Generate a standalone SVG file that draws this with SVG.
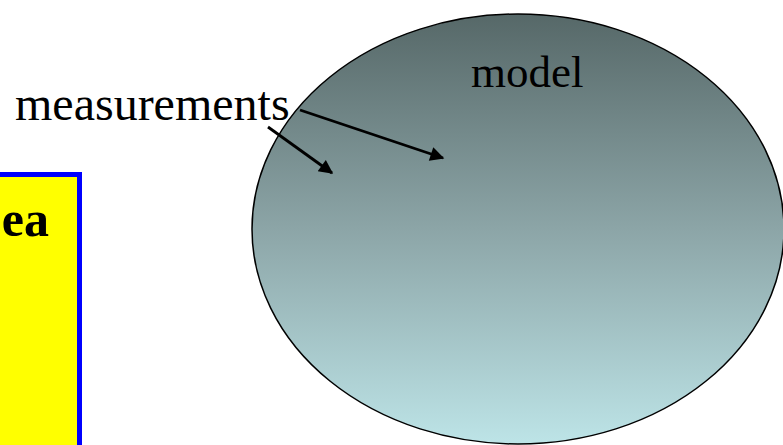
<svg xmlns="http://www.w3.org/2000/svg" width="783" height="445" viewBox="0 0 783 445">
<style>
.t{font-family:"Liberation Serif","Times New Roman",serif;fill:#000}
.conn{stroke:#000;stroke-width:2.8;fill:none}
</style>
<defs>
<linearGradient id="g" x1="0" y1="0" x2="0" y2="1">
<stop offset="0" stop-color="#566868"/>
<stop offset="0.5" stop-color="#8ca5a7"/>
<stop offset="1" stop-color="#bde4e7"/>
</linearGradient>
<marker id="ah" viewBox="0 0 10 10" refX="9" refY="5" markerWidth="5.5" markerHeight="5" orient="auto" markerUnits="strokeWidth">
<path d="M0,0 L10,5 L0,10 z" fill="#000"/>
</marker>
</defs>
<rect width="783" height="445" fill="#fff"/>
<g id="box">
<rect x="-10" y="174.5" width="89.5" height="290" fill="#ffff00" stroke="#0000ff" stroke-width="5"/>
<text class="t" x="49" y="236" font-size="50" font-weight="bold" text-anchor="end">ea</text>
</g>
<g id="model">
<ellipse cx="518" cy="229" rx="266" ry="215" fill="url(#g)" stroke="#000" stroke-width="1.5"/>
<text class="t" x="471" y="87" font-size="45">model</text>
</g>
<g id="measurements">
<text class="t" x="15" y="120" font-size="48">measurements</text>
</g>
<g id="connectors">
<line class="conn" x1="300" y1="110" x2="443" y2="158" marker-end="url(#ah)"/>
<line class="conn" x1="268" y1="127" x2="332" y2="173" marker-end="url(#ah)"/>
</g>
</svg>
